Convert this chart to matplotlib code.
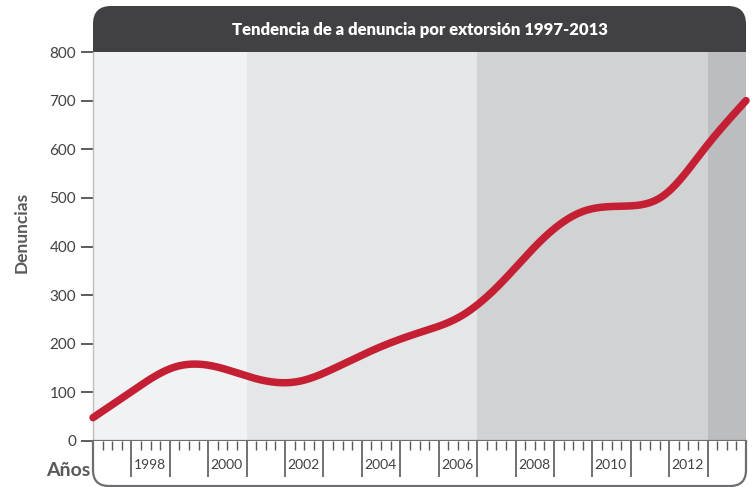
import numpy as np
import matplotlib
matplotlib.use("Agg")
import matplotlib.pyplot as plt
from matplotlib.path import Path
from matplotlib.patches import PathPatch, FancyBboxPatch, Rectangle

# ---- data ----
years = list(range(1997, 2014))
denuncias = [48, 105, 152, 153, 128, 122, 153, 192, 223, 256, 325, 414, 472, 483, 506, 603, 700]
yticks = [0, 100, 200, 300, 400, 500, 600, 700, 800]
year_labels = ["1998", "2000", "2002", "2004", "2006", "2008", "2010", "2012"]
band_edges = [1997, 2001, 2007, 2013, 2014]
band_colors = ["#f1f2f4", "#e5e6e8", "#d1d2d4", "#bcbdc0"]
title = "Tendencia de a denuncia por extorsión 1997-2013"

W, H = 755, 487
fig = plt.figure(figsize=(W / 100, H / 100), dpi=100)
FONT = ["Lato", "DejaVu Sans"]
GRAY = "#58595b"
DARK = "#414042"

def fx(px):
    return px / W

def fy(py):
    return 1 - py / H

L, R, T, B = 93, 746, 52, 441
ax = fig.add_axes([fx(L), fy(B), fx(R) - fx(L), fy(T) - fy(B)])
ax.set_xlim(1997, 2014)
ax.set_ylim(0, 800)

for i, c in enumerate(band_colors):
    ax.axvspan(band_edges[i], band_edges[i + 1], color=c, lw=0, zorder=0)

# data placed evenly across the full width (1997 -> left edge, 2013 -> right edge)
n = len(years)
xpos = 1997 + np.arange(n) * (17 / (n - 1))
y = np.array(denuncias, dtype=float)

# natural cubic spline
h = np.diff(xpos)
A = np.zeros((n, n)); rhs = np.zeros(n)
A[0, 0] = 1; A[-1, -1] = 1
for i in range(1, n - 1):
    A[i, i - 1] = h[i - 1]; A[i, i] = 2 * (h[i - 1] + h[i]); A[i, i + 1] = h[i]
    rhs[i] = 3 * ((y[i + 1] - y[i]) / h[i] - (y[i] - y[i - 1]) / h[i - 1])
c = np.linalg.solve(A, rhs)
xs, ys = [], []
for i in range(n - 1):
    b = (y[i + 1] - y[i]) / h[i] - h[i] * (2 * c[i] + c[i + 1]) / 3
    d = (c[i + 1] - c[i]) / (3 * h[i])
    t = np.linspace(0, h[i], 30, endpoint=(i == n - 2))
    xs.append(xpos[i] + t)
    ys.append(y[i] + b * t + c[i] * t ** 2 + d * t ** 3)
xs = np.concatenate(xs); ys = np.concatenate(ys)
ax.plot(xs, ys, color="#c41f33", lw=5.4, solid_capstyle="round", zorder=3, clip_on=False)

ax.set_yticks(yticks)
ax.set_yticklabels([str(v) for v in yticks], fontfamily=FONT, fontsize=11, color=DARK)
ax.tick_params(axis="y", length=8.6, width=1.2, color=DARK, pad=3.6)
ax.set_xticks([])
for s in ["top", "right"]:
    ax.spines[s].set_visible(False)
ax.spines["left"].set_color("#bcbec0")
ax.spines["left"].set_linewidth(1.0)
ax.spines["bottom"].set_color("#6d6e71")
ax.spines["bottom"].set_linewidth(1.6)
ax.spines["bottom"].set_zorder(5)

# ---- title bar ----
r = 18
bar = FancyBboxPatch((fx(L), fy(T)), fx(R) - fx(L), fy(6) - fy(T),
                     boxstyle=f"round,pad=0,rounding_size={r / W}",
                     transform=fig.transFigure, fc=DARK, ec="none", zorder=-1,
                     mutation_aspect=W / H)
fig.patches.append(bar)
fig.patches.append(Rectangle((fx(L), fy(T)), fx(R) - fx(L), fy(T - 22) - fy(T),
                             transform=fig.transFigure, fc=DARK, ec="none", zorder=-1))
fig.text(fx(420), fy(30), title, color="white", fontsize=12, fontweight="heavy",
         fontfamily=FONT, ha="center", va="center")

# ---- ruler ----
rb = 486
rax = fig.add_axes([fx(L), fy(rb), fx(R) - fx(L), fy(B) - fy(rb)])
rax.set_xlim(1997, 2014)
rax.set_ylim(0, 1)
rax.axis("off")
hpx = rb - B
rr = 16
rx = rr / (R - L) * 17
ry = rr / hpx
verts = [(1997, 1), (1997, ry), (1997, 0), (1997 + rx, 0), (2014 - rx, 0),
         (2014, 0), (2014, ry), (2014, 1)]
codes = [Path.MOVETO, Path.LINETO, Path.CURVE3, Path.CURVE3, Path.LINETO,
         Path.CURVE3, Path.CURVE3, Path.LINETO]
rax.add_patch(PathPatch(Path(verts, codes), fc="white", ec="#6d6e71", lw=1.6, clip_on=False))
major = np.arange(1998, 2014)
rax.vlines(major, 1 - 36 / hpx, 1, color="#58595b", lw=1.2)
minor = np.array([yr + q / 4 for yr in range(1997, 2014) for q in (1, 2, 3)])
rax.vlines(minor, 1 - 9 / hpx, 1, color="#58595b", lw=1.0)
for lab in year_labels:
    rax.text(int(lab) + 0.06, 1 - 24 / hpx, lab, fontsize=10, fontfamily=FONT,
             color=DARK, ha="left", va="center")

fig.text(fx(68), fy(470), "Años", fontsize=14, fontfamily=FONT, fontweight="bold",
         color=GRAY, ha="center", va="center")
fig.text(fx(22), fy(232), "Denuncias", fontsize=12.5, fontfamily=FONT, fontweight="bold",
         color=GRAY, ha="center", va="center", rotation=90)

fig.savefig("out.png", dpi=100)
